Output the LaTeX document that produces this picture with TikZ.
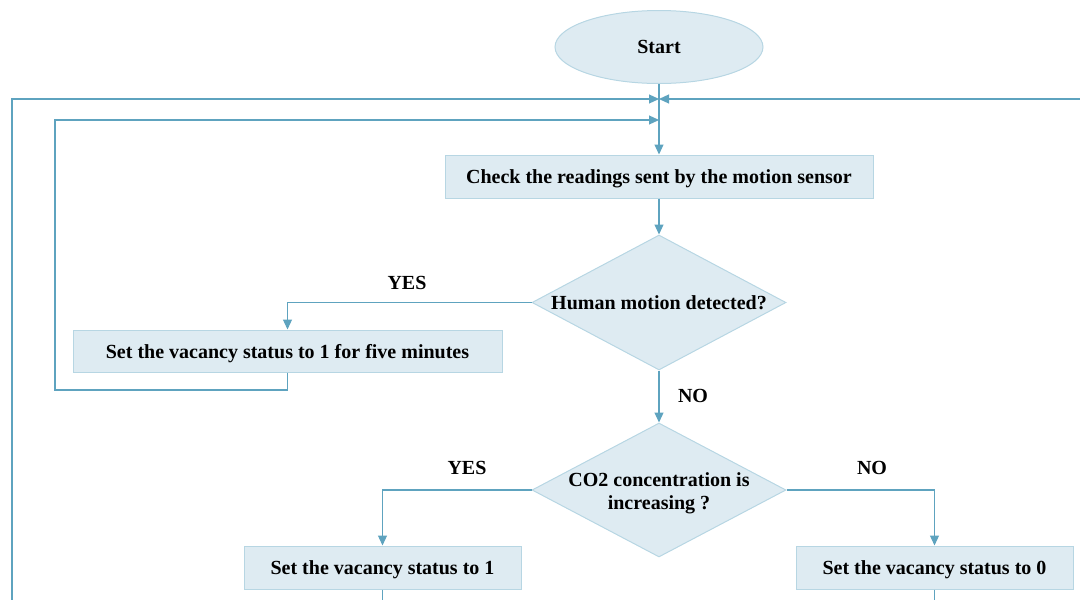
\documentclass[tikz,border=0pt]{standalone}
\usepackage{fontspec}
\setmainfont{Liberation Serif}
\usetikzlibrary{arrows.meta,shapes.geometric}
\definecolor{boxfill}{RGB}{222,235,242}
\definecolor{boxline}{RGB}{183,214,227}
\definecolor{flowline}{RGB}{94,163,191}

\begin{document}
\begin{tikzpicture}[x=1pt,y=-1pt]
\tikzstyle{every node}=[font=\fontsize{20}{23}\selectfont\bfseries,text depth=0pt];
\tikzstyle{procbox}=[draw=boxline,fill=boxfill,line width=1pt,inner sep=0pt];
\tikzstyle{decision}=[draw=boxline,fill=boxfill,line width=1pt,shape=diamond,inner sep=0pt];
\tikzstyle{flow}=[draw=flowline,line width=1.2pt,-{Triangle[length=10pt,width=9pt]}];
\tikzstyle{plain}=[draw=flowline,line width=1.2pt];
\useasboundingbox (0,0) rectangle (1080,600);

% nodes
\path (659,47) node[procbox,shape=ellipse,minimum width=208pt,minimum height=73pt] (start) {Start};
\path (659,176.5) node[procbox,minimum width=428pt,minimum height=43pt] (check) {Check the readings sent by the motion sensor};
\path (659,302.5) node[decision,minimum width=254pt,minimum height=135pt] (motion) {};
\path (motion) node {Human motion detected?};
\path (287.5,351) node[procbox,minimum width=429pt,minimum height=42pt] (five) {Set the vacancy status to 1 for five minutes};
\path (659,490) node[decision,minimum width=254pt,minimum height=134pt] (co2) {};
\path ([yshift=-1pt]co2) node[align=center] {CO2 concentration is\\increasing ?};
\path (382.5,567.5) node[procbox,minimum width=277pt,minimum height=43pt] (one) {Set the vacancy status to 1};
\path (934.5,567.5) node[procbox,minimum width=277pt,minimum height=43pt] (zero) {Set the vacancy status to 0};

% loop-back points
\coordinate (outer) at (659,99);
\coordinate (inner) at (659,120);
\coordinate (outerL) at (12,600);
\coordinate (outerR) at (1080,99);
\coordinate (oneB) at (382.5,600);
\coordinate (zeroB) at (934.5,600);

% connectors
\draw[flow] (start) -- (check);
\draw[flow] (check) -- (motion);
\draw[flow] (motion.west) -| (five.north);
\draw[flow] (motion.south) -- (co2.north);
\draw[flow] (co2.west) -| (one.north);
\draw[flow] (co2.east) -| (zero.north);
\draw[flow] (five.south) |- (55,390) |- (inner);
\draw[flow] (outerL) |- (outer);
\draw[flow] (outerR) -- (outer);
\draw[plain] (one.south) -- (oneB);
\draw[plain] (zero.south) -- (zeroB);

% branch labels
\path (407,283) node {YES};
\path (693,396) node {NO};
\path (467,468) node {YES};
\path (872,468) node {NO};
\end{tikzpicture}
\end{document}
